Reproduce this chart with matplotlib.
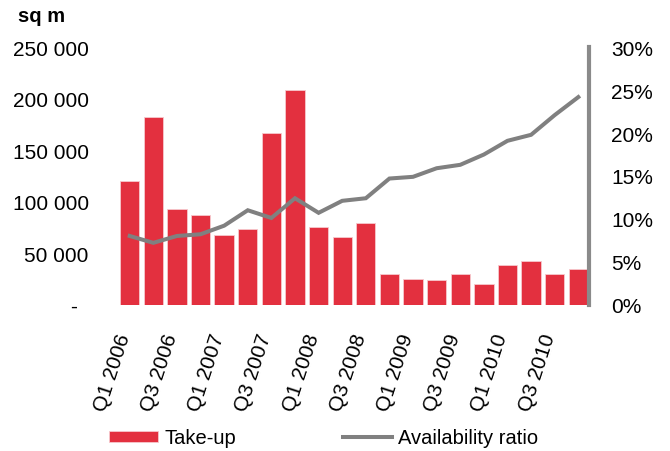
import matplotlib
matplotlib.use("Agg")
import matplotlib.pyplot as plt
import matplotlib.transforms as mtransforms
from matplotlib.ticker import FuncFormatter

plt.rcParams["font.family"] = ["Liberation Sans", "DejaVu Sans"]

quarters = [f"Q{q} {y}" for y in range(2006, 2011) for q in (1, 2, 3, 4)]
take_up = [120000, 182000, 92500, 87000, 67500, 73000, 167000, 209000, 75000, 65500,
           79000, 29500, 25000, 23500, 29500, 19500, 38500, 42500, 29500, 35000]
availability = [8.0, 7.2, 8.0, 8.2, 9.2, 11.0, 10.1, 12.4, 10.7, 12.1,
                12.4, 14.7, 14.9, 15.9, 16.3, 17.5, 19.1, 19.8, 22.1, 24.2]

bar_red = "#e3303f"
line_grey = "#808080"
fs = 15
fs_legend = 14.5

fig = plt.figure(figsize=(6.7, 4.52), dpi=100)
ax = fig.add_axes([0.176, 0.324, 0.703, 0.569])
ax2 = ax.twinx()

x = list(range(len(quarters)))
bars = ax.bar(x, take_up, width=0.82, color=bar_red, edgecolor="#f6c9cd",
              linewidth=0.6, label="Take-up", zorder=2)
line, = ax2.plot(x, availability, color=line_grey, linewidth=2.9,
                 solid_joinstyle="miter", label="Availability ratio", zorder=3)

ax.set_xlim(-0.5, 19.45)
ax.set_ylim(0, 250000)
ax2.set_ylim(0, 30)

for a in (ax, ax2):
    for side in ("top", "bottom", "left", "right"):
        a.spines[side].set_visible(False)
ax2.spines["right"].set_visible(True)
ax2.spines["right"].set_color("#8a8a8a")
ax2.spines["right"].set_linewidth(3)

ax.set_yticks(range(0, 250001, 50000))
ax.yaxis.set_major_formatter(FuncFormatter(
    lambda v, p: "-" if v == 0 else f"{int(v):,}".replace(",", " ")))
ax.tick_params(axis="y", length=0, pad=21, labelsize=fs)
ax2.set_yticks(range(0, 31, 5))
ax2.yaxis.set_major_formatter(FuncFormatter(lambda v, p: f"{int(v)}%"))
ax2.tick_params(axis="y", length=0, pad=16, labelsize=fs)

ax.set_xticks(x[::2])
ax.set_xticklabels(quarters[::2], rotation=72, ha="right", va="baseline",
                   rotation_mode="anchor", fontsize=fs)
ax.tick_params(axis="x", length=0, pad=22.5)

# the zero label sits left of the other left-axis labels
fig.canvas.draw()
for lbl in ax.get_yticklabels():
    if lbl.get_text() == "-":
        shift = mtransforms.ScaledTranslation(-12 / 100, 0, fig.dpi_scale_trans)
        lbl.set_transform(lbl.get_transform() + shift)

fig.text(18 / 670, 1 - 16 / 452, "sq m", fontsize=fs_legend, fontweight="bold",
         ha="left", va="center")

fig.legend(handles=[bars, line], loc="center left",
           bbox_to_anchor=(109 / 670, 13 / 452), ncol=2, frameon=False,
           fontsize=fs_legend, handlelength=2.45, handleheight=0.5, handletextpad=0.3,
           columnspacing=5.3, borderpad=0, borderaxespad=0)

fig.savefig("out.png", dpi=100)
